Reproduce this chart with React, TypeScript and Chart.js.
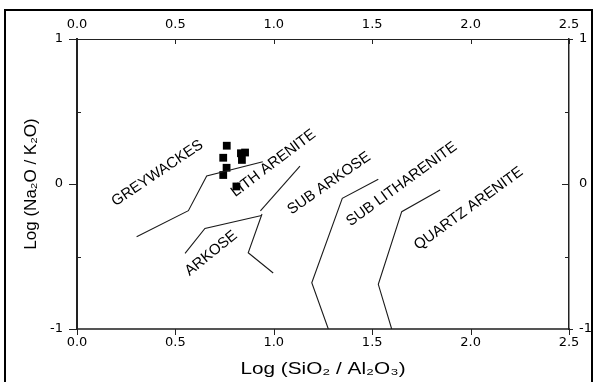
import React, { useEffect, useRef } from "react";
import { Chart, registerables } from "chart.js";

Chart.register(...registerables);

// Axis ticks
const xTicks = [0, 0.5, 1, 1.5, 2, 2.5];
const yTicks = [-1, 0, 1];
const yMinorTicks = [-0.5, 0.5];

// Sample points
const sampleX = [0.761, 0.743, 0.760, 0.743, 0.833, 0.854, 0.838, 0.810];
const sampleY = [0.264, 0.181, 0.112, 0.062, 0.212, 0.217, 0.166, -0.017];

// Field boundaries
const greywackeX = [0.303, 0.566, 0.659, 0.944];
const greywackeY = [-0.363, -0.184, 0.055, 0.154];
const arkoseX = [0.549, 0.650, 0.938];
const arkoseY = [-0.478, -0.306, -0.217];
const lithUpperX = [0.932, 1.133];
const lithUpperY = [-0.186, 0.124];
const lithLowerX = [0.940, 0.870, 0.997];
const lithLowerY = [-0.207, -0.474, -0.614];
const subArkoseX = [1.531, 1.348, 1.193, 1.277];
const subArkoseY = [0.032, -0.099, -0.681, -1.0];
const subLithX = [1.845, 1.650, 1.531, 1.599];
const subLithY = [-0.041, -0.191, -0.692, -1.0];

// Field labels
const labelText = ["GREYWACKES", "LITH ARENITE", "ARKOSE", "SUB ARKOSE", "SUB LITHARENITE", "QUARTZ ARENITE"];
const labelX = [0.409, 0.998, 0.682, 1.281, 1.650, 1.990];
const labelY = [0.074, 0.143, -0.478, 0.005, -0.001, -0.170];
const labelAngle = [34, 37, 39, 35, 36, 36];

const xTitle = "Log (SiO₂ / Al₂O₃)";
const yTitle = "Log (Na₂O / K₂O)";

const FONT = '"Liberation Sans", Arial, sans-serif';
const TICK_FONT = '"DejaVu Sans", sans-serif';

const pts = (xs: number[], ys: number[]) => xs.map((x, i) => ({ x, y: ys[i] }));

const lineDs = (xs: number[], ys: number[]) => ({
  data: pts(xs, ys),
  showLine: true,
  pointRadius: 0,
  borderColor: "#1a1a1a",
  borderWidth: 1.1,
  fill: false,
  tension: 0,
});

const overlay = {
  id: "overlay",
  beforeDatasetsDraw(chart: any) {
    const { ctx, scales } = chart;
    const x = scales.x, y = scales.y;
    ctx.save();
    ctx.font = `15px ${FONT}`;
    ctx.fillStyle = "#000";
    ctx.textAlign = "center";
    ctx.textBaseline = "middle";
    labelText.forEach((t, i) => {
      ctx.save();
      ctx.translate(x.getPixelForValue(labelX[i]), y.getPixelForValue(labelY[i]));
      ctx.rotate((-labelAngle[i] * Math.PI) / 180);
      ctx.fillText(t, 0, 0);
      ctx.restore();
    });
    ctx.restore();
  },
  afterDraw(chart: any) {
    const { ctx, scales, chartArea } = chart;
    const x = scales.x, y = scales.y;
    const { left, right, top, bottom } = chartArea;
    ctx.save();
    ctx.strokeStyle = "#222";
    ctx.lineWidth = 1;
    const seg = (x1: number, y1: number, x2: number, y2: number) => {
      ctx.beginPath();
      ctx.moveTo(x1, y1);
      ctx.lineTo(x2, y2);
      ctx.stroke();
    };
    xTicks.forEach((v) => {
      const px = Math.round(x.getPixelForValue(v)) + 0.5;
      seg(px, top, px, top + 5);
      seg(px, bottom, px, bottom + 6);
    });
    yTicks.forEach((v) => {
      const py = Math.round(y.getPixelForValue(v)) + 0.5;
      seg(left - 8, py, left, py);
      if (v === 0) seg(right - 7, py, right, py);
      else seg(right, py, right + 4, py);
    });
    yMinorTicks.forEach((v) => {
      const py = Math.round(y.getPixelForValue(v)) + 0.5;
      seg(right - 4, py, right, py);
      seg(left, py, left + 4, py);
    });
    // x-axis title (horizontally widened like the scanned original)
    ctx.save();
    ctx.font = `17px ${FONT}`;
    ctx.fillStyle = "#000";
    ctx.textAlign = "center";
    ctx.textBaseline = "middle";
    ctx.translate((left + right) / 2, bottom + 40);
    ctx.scale(1.22, 1);
    ctx.fillText(xTitle, 0, 0);
    ctx.restore();
    // outer frame
    ctx.strokeStyle = "#000";
    ctx.lineWidth = 2;
    ctx.strokeRect(5, 10, 587, 380);
    ctx.restore();
  },
};

export default function App() {
  const ref = useRef<HTMLCanvasElement | null>(null);
  useEffect(() => {
    if (!ref.current) return;
    const tickFont = { family: TICK_FONT, size: 13 };
    const setX = (s: any) => {
      s.ticks = xTicks.map((v) => ({ value: v }));
    };
    const setY = (s: any) => {
      s.ticks = yTicks.map((v) => ({ value: v }));
    };
    const chart = new Chart(ref.current, {
      type: "scatter",
      data: {
        datasets: [
          lineDs(greywackeX, greywackeY),
          lineDs(arkoseX, arkoseY),
          lineDs(lithUpperX, lithUpperY),
          lineDs(lithLowerX, lithLowerY),
          lineDs(subArkoseX, subArkoseY),
          lineDs(subLithX, subLithY),
          {
            data: pts(sampleX, sampleY),
            pointStyle: "rect",
            pointRadius: 5.5,
            backgroundColor: "#000",
            borderColor: "#000",
            borderWidth: 0,
            showLine: false,
          },
        ] as any,
      },
      options: {
        animation: false,
        responsive: true,
        maintainAspectRatio: false,
        layout: { padding: 0 },
        plugins: { legend: { display: false }, tooltip: { enabled: false } },
        scales: {
          x: {
            type: "linear",
            position: "bottom",
            min: 0,
            max: 2.5,
            afterBuildTicks: setX,
            afterFit: (s: any) => { s.height = 53; },
            grid: { display: false, drawTicks: false },
            border: { display: true, color: "#555", width: 2 },
            ticks: { font: tickFont, color: "#000", padding: 6, maxRotation: 0, callback: (v: any) => Number(v).toFixed(1) },
          },
          x2: {
            type: "linear",
            position: "top",
            min: 0,
            max: 2.5,
            afterBuildTicks: setX,
            afterFit: (s: any) => { s.height = 39; },
            grid: { display: false, drawTicks: false },
            border: { display: true, color: "#222", width: 1 },
            ticks: { font: tickFont, color: "#000", padding: 7, maxRotation: 0, callback: (v: any) => Number(v).toFixed(1) },
          },
          y: {
            type: "linear",
            position: "left",
            min: -1,
            max: 1,
            afterBuildTicks: setY,
            afterFit: (s: any) => { s.width = 77; },
            grid: { display: false, drawTicks: false },
            border: { display: true, color: "#222", width: 2 },
            ticks: { font: tickFont, color: "#000", padding: 14, callback: (v: any) => String(v) },
            title: { display: true, text: yTitle, font: { family: FONT, size: 17 }, color: "#000", padding: { top: 21, bottom: 0 } },
          },
          y2: {
            type: "linear",
            position: "right",
            min: -1,
            max: 1,
            afterBuildTicks: setY,
            afterFit: (s: any) => { s.width = 28; },
            grid: { display: false, drawTicks: false },
            border: { display: true, color: "#222", width: 1.5 },
            ticks: { font: tickFont, color: "#000", padding: 10, callback: (v: any) => String(v) },
          },
        },
      } as any,
      plugins: [overlay],
    });
    return () => chart.destroy();
  }, []);
  return (
    <div style={{ position: "fixed", left: 0, top: 0, width: 597, height: 382, background: "#fff" }}>
      <canvas ref={ref} />
    </div>
  );
}
